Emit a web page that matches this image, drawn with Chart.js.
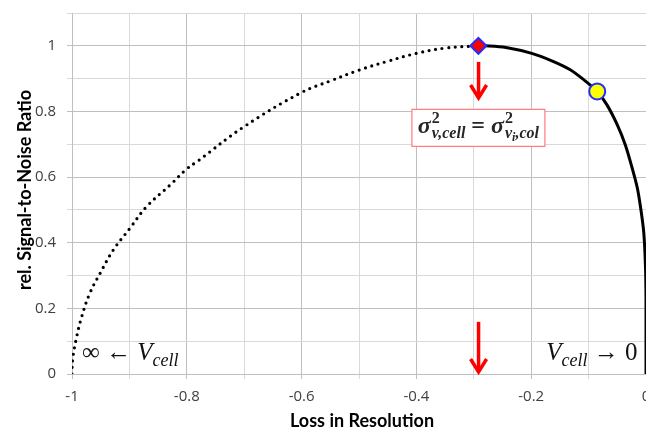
<!DOCTYPE html>
<html>
<head>
<meta charset="utf-8">
<script src="https://cdn.jsdelivr.net/npm/chart.js@4.4.1/dist/chart.umd.min.js"></script>
<style>
  body { margin: 0; background: #fff; }
  #wrap { width: 646px; height: 429px; }
</style>
</head>
<body>
<div id="wrap"><canvas id="snrChart" width="646" height="429"></canvas></div>
<script>
// courbe pointillée : de V_cell -> infini jusqu'au point optimal
const lossDotted = [-1.0, -0.999, -0.993, -0.983, -0.969, -0.951, -0.928, -0.900, -0.870, -0.829, -0.800, -0.780, -0.7, -0.6, -0.55, -0.5, -0.45, -0.4, -0.35, -0.292];
const snrDotted  = [0, 0.043, 0.104, 0.175, 0.246, 0.307, 0.378, 0.442, 0.510, 0.576, 0.625, 0.650, 0.754, 0.858, 0.893, 0.926, 0.953, 0.977, 0.993, 1.0];

// courbe pleine : du point optimal jusqu'à V_cell -> 0
const lossSolid = [-0.292, -0.279, -0.244, -0.199, -0.161, -0.132, -0.108, -0.085, -0.068, -0.050, -0.036, -0.024, -0.015, -0.0084, -0.0038, -0.0009, 0, 0];
const snrSolid  = [1.0, 1.0, 0.995, 0.977, 0.952, 0.927, 0.896, 0.861, 0.820, 0.759, 0.698, 0.627, 0.566, 0.495, 0.429, 0.327, 0.226, 0];

// points marqués
const diamondLoss = [-0.292];
const diamondSnr  = [1.0];
const circleLoss  = [-0.085];
const circleSnr   = [0.861];

// graduations
const xTickLabels = ["-1", "-0.8", "-0.6", "-0.4", "-0.2", "0"];
const yTickLabels = ["0", "0.2", "0.4", "0.6", "0.8", "1"];

// flèches rouges (en coordonnées des axes)
const arrowLoss = [-0.2917, -0.2917];
const arrowFrom = [0.951, 0.159];
const arrowTo   = [0.835, 0.0];

const toPoints = (xs, ys) => xs.map((x, i) => ({ x: x, y: ys[i] }));
const isMajor = v => Math.round(v * 10) % 2 === 0;
const gridColor = c => (c.tick && isMajor(c.tick.value)) ? '#bfbfbf' : '#d9d9d9';

function labelFor(list, v) {
    const s = String(Math.round(v * 10) / 10);
    return list.includes(s) ? s : '';
}

// dessine une suite de morceaux de texte (exposants / indices)
function drawRuns(ctx, x, y, runs) {
    let cx = x;
    runs.forEach(r => {
        ctx.font = r.font;
        ctx.fillText(r.text, cx, y + (r.dy || 0));
        const w = ctx.measureText(r.text).width;
        cx += r.noAdvance ? 0 : w;
        if (r.after) cx += r.after;
    });
    return cx - x;
}
function measureRuns(ctx, runs) {
    let w = 0;
    runs.forEach(r => {
        ctx.font = r.font;
        if (!r.noAdvance) w += ctx.measureText(r.text).width;
        if (r.after) w += r.after;
    });
    return w;
}

const overlay = {
    id: 'overlay',
    afterDraw(chart) {
        const ctx = chart.ctx;
        const xs = chart.scales.x, ys = chart.scales.y;

        // flèches
        ctx.save();
        ctx.strokeStyle = '#ff0000';
        ctx.lineWidth = 3.5;
        ctx.lineJoin = 'miter';
        arrowLoss.forEach((lx, i) => {
            const px = xs.getPixelForValue(lx);
            const y0 = ys.getPixelForValue(arrowFrom[i]);
            const y1 = ys.getPixelForValue(arrowTo[i]) - 2;
            ctx.beginPath();
            ctx.moveTo(px, y0);
            ctx.lineTo(px, y1);
            ctx.stroke();
            ctx.beginPath();
            ctx.moveTo(px - 8, y1 - 13);
            ctx.lineTo(px, y1);
            ctx.lineTo(px + 8, y1 - 13);
            ctx.stroke();
        });
        ctx.restore();

        // encadré avec la formule
        ctx.save();
        const serif = '"Liberation Serif", "DejaVu Serif", serif';
        const big = 'bold italic 24px ' + serif;
        const sm = 'bold italic 16px ' + serif;
        const tiny = 'bold italic 12px ' + serif;
        const mathRuns = [
            { text: 'σ', font: big, after: 1 },
            { text: '2', font: 'bold 16px ' + serif, dy: -10, noAdvance: true },
            { text: 'v,cell', font: sm, dy: 5 },
            { text: ' = ', font: 'bold 24px ' + serif },
            { text: 'σ', font: big, after: 1 },
            { text: '2', font: 'bold 16px ' + serif, dy: -10, noAdvance: true },
            { text: 'v', font: sm, dy: 5 },
            { text: 'i', font: tiny, dy: 8 },
            { text: ',col', font: sm, dy: 5 }
        ];
        const cxBox = xs.getPixelForValue(-0.292);
        const cyBox = ys.getPixelForValue(0.75);
        const tw = measureRuns(ctx, mathRuns);
        const bw = 133, bh = 37;
        ctx.fillStyle = '#ffffff';
        ctx.fillRect(cxBox - bw / 2, cyBox - bh / 2, bw, bh);
        ctx.strokeStyle = '#ff7c80';
        ctx.lineWidth = 1.2;
        ctx.strokeRect(cxBox - bw / 2, cyBox - bh / 2, bw, bh);
        ctx.fillStyle = '#262626';
        ctx.textBaseline = 'alphabetic';
        ctx.textAlign = 'left';
        drawRuns(ctx, cxBox - tw / 2, cyBox + 5, mathRuns);
        ctx.restore();

        // V_cell
        ctx.save();
        ctx.fillStyle = '#111111';
        ctx.textBaseline = 'alphabetic';
        ctx.textAlign = 'left';
        const vMain = 'italic 25px ' + serif;
        const vSub = 'italic 18px ' + serif;
        const reg = '25px ' + serif;
        const baseY = ys.getPixelForValue(0.042);
        const leftRuns = [
            { text: '∞ ', font: reg },
            { text: '← ', font: reg },
            { text: 'V', font: vMain },
            { text: 'cell', font: vSub, dy: 6 }
        ];
        drawRuns(ctx, xs.getPixelForValue(-0.9826), baseY, leftRuns);
        const rightRuns = [
            { text: 'V', font: vMain },
            { text: 'cell', font: vSub, dy: 6 },
            { text: ' → ', font: reg },
            { text: '0', font: reg }
        ];
        const rw = measureRuns(ctx, rightRuns);
        drawRuns(ctx, xs.getPixelForValue(-0.0148) - rw, baseY, rightRuns);
        ctx.restore();

        // titres des axes
        ctx.save();
        ctx.fillStyle = '#000000';
        ctx.font = 'bold 18px Lato, "Open Sans", sans-serif';
        ctx.textAlign = 'center';
        ctx.textBaseline = 'middle';
        ctx.fillText('Loss in Resolution', 362, 421);
        ctx.translate(25, 190);
        ctx.rotate(-Math.PI / 2);
        ctx.fillText('rel. Signal-to-Noise Ratio', 0, 0);
        ctx.restore();
    }
};

const ctx = document.getElementById('snrChart').getContext('2d');
new Chart(ctx, {
    type: 'line',
    data: {
        datasets: [
            {
                type: 'scatter',
                data: toPoints(diamondLoss, diamondSnr),
                pointStyle: 'rectRot',
                pointRadius: 8,
                backgroundColor: '#ff0000',
                borderColor: '#1f2fff',
                borderWidth: 2
            },
            {
                type: 'scatter',
                data: toPoints(circleLoss, circleSnr),
                pointStyle: 'circle',
                pointRadius: 8,
                backgroundColor: '#ffff00',
                borderColor: '#1f2fff',
                borderWidth: 2
            },
            {
                data: toPoints(lossSolid, snrSolid),
                borderColor: '#000000',
                borderWidth: 3,
                pointRadius: 0,
                tension: 0.3,
                fill: false
            },
            {
                data: toPoints(lossDotted, snrDotted),
                borderColor: '#000000',
                borderWidth: 3.2,
                borderDash: [0, 6.6],
                borderCapStyle: 'round',
                pointRadius: 0,
                tension: 0.4,
                fill: false
            }
        ]
    },
    options: {
        responsive: false,
        animation: false,
        layout: { autoPadding: false, padding: { top: 13, right: 0, left: 0, bottom: 0 } },
        plugins: {
            legend: { display: false },
            tooltip: { enabled: false }
        },
        scales: {
            x: {
                type: 'linear',
                min: -1,
                max: 0,
                ticks: {
                    stepSize: 0.1,
                    autoSkip: false,
                    maxRotation: 0,
                    padding: 9,
                    color: '#404040',
                    font: { family: '"Open Sans", sans-serif', size: 15 },
                    callback: v => labelFor(xTickLabels, v)
                },
                grid: { color: gridColor, tickLength: 5, lineWidth: 1 },
                border: { color: '#bfbfbf' },
                afterFit: s => { s.height = 55; s.paddingLeft = 0; s.paddingRight = 0; }
            },
            y: {
                min: 0,
                max: 1.1,
                ticks: {
                    stepSize: 0.1,
                    autoSkip: false,
                    padding: 11,
                    color: '#404040',
                    font: { family: '"Open Sans", sans-serif', size: 15 },
                    callback: v => labelFor(yTickLabels, v)
                },
                grid: { color: gridColor, tickLength: 5, lineWidth: 1 },
                border: { color: '#bfbfbf' },
                afterFit: s => { s.width = 72; s.paddingTop = 0; s.paddingBottom = 0; }
            }
        }
    },
    plugins: [overlay]
});
</script>
</body>
</html>
